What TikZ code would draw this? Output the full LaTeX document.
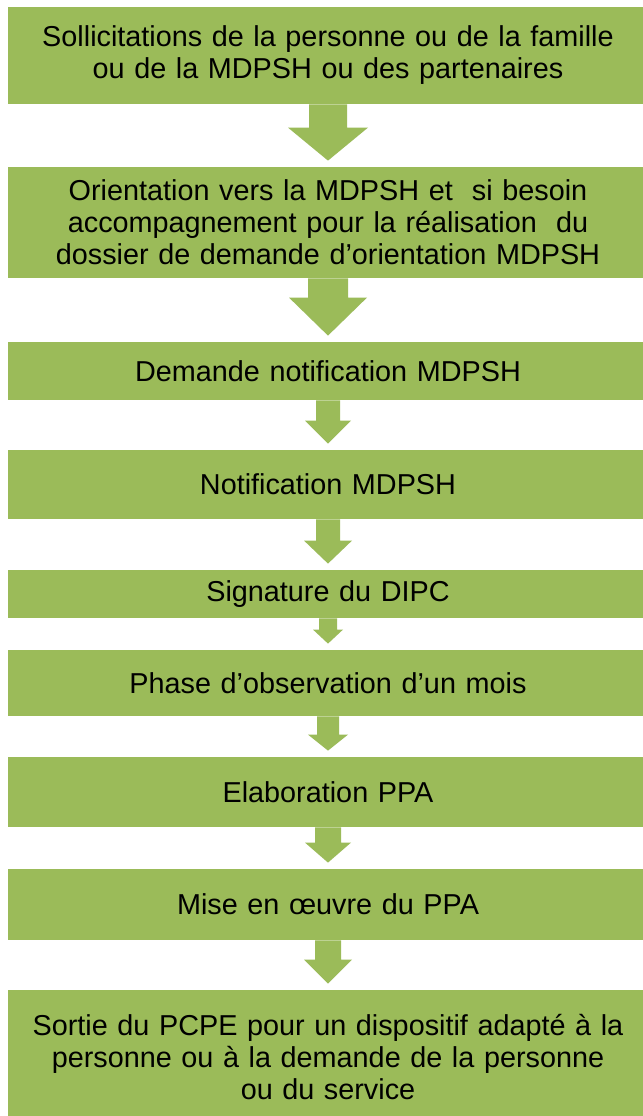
\documentclass[tikz,border=0pt]{standalone}
\usepackage{fontspec}
\setmainfont{Liberation Sans}
\usepackage{tikz}
\usetikzlibrary{calc,positioning}
\definecolor{vertolive}{HTML}{9BBB59}
\tikzset{boite/.style={rectangle,fill=vertolive,minimum width=320pt,inner sep=0pt,text width=316pt,align=center,font=\fontsize{14.4}{16}\selectfont}}
% fleche pleine : depart, arrivee, demi-largeur du corps, demi-largeur de la tete, hauteur de la tete
\newcommand{\fleche}[5]{%
  \fill[vertolive] ($(#1.south)+(-#3,0)$) -- ($(#1.south)+(#3,0)$) -- ($(#2.north)+(#3,-6-#5)$) -- ($(#2.north)+(#4,-6-#5)$) -- ($(#2.north)+(0,-6)$) -- ($(#2.north)+(-#4,-6-#5)$) -- ($(#2.north)+(-#3,-6-#5)$) -- cycle;}

\begin{document}
\begin{tikzpicture}[x=0.5pt,y=-0.5pt]
\fill[white] (0,0) rectangle (643,1116);
\useasboundingbox (0,0) rectangle (643,1116);
\clip (0,0) rectangle (643,1116);
\node[boite,minimum height=48.5pt] (sollicitation) at (328,55.5) {Sollicitations de la personne ou de la famille\\ou de la MDPSH ou des partenaires};
\node[boite,minimum height=55.5pt] (orientation) at (328,222.5) {Orientation vers la MDPSH et~ si besoin\\accompagnement pour la réalisation~ du\\dossier de demande d’orientation MDPSH};
\node[boite,minimum height=29pt] (demande) at (328,371) {Demande notification MDPSH};
\node[boite,minimum height=34.5pt] (notification) at (328,484.5) {Notification MDPSH};
\node[boite,minimum height=24pt] (signature) at (328,594) {Signature du DIPC};
\node[boite,minimum height=33pt] (observation) at (328,683) {Phase d’observation d’un mois};
\node[boite,minimum height=35pt] (elaboration) at (328,792) {Elaboration PPA};
\node[boite,minimum height=35.5pt] (miseoeuvre) at (328,904.5) {Mise en œuvre du PPA};
\node[boite,minimum height=67pt] (sortie) at (328,1057) {Sortie du PCPE pour un dispositif adapté à la\\personne ou à la demande de la personne\\ou du service};
\fleche{sollicitation}{orientation}{19}{40}{33}
\fleche{orientation}{demande}{20}{39}{38}
\fleche{demande}{notification}{12}{23}{23}
\fleche{notification}{signature}{12}{24}{23}
\fleche{signature}{observation}{9}{15}{14}
\fleche{observation}{elaboration}{11}{20}{16}
\fleche{elaboration}{miseoeuvre}{13}{23}{20}
\fleche{miseoeuvre}{sortie}{13}{24}{24}
\end{tikzpicture}
\end{document}
